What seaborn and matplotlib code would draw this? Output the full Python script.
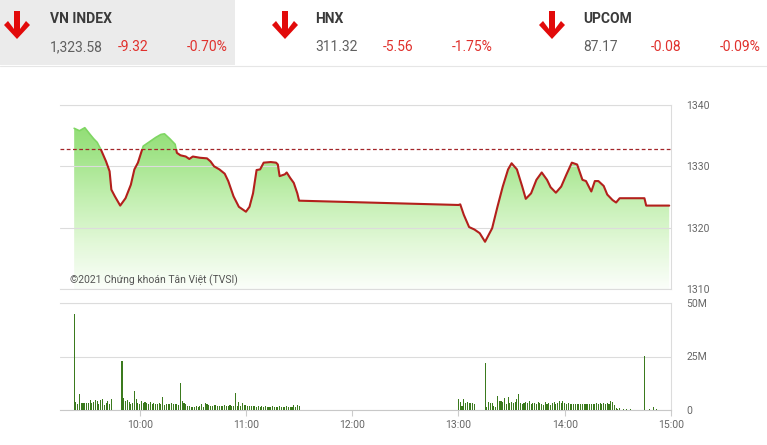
import matplotlib
matplotlib.use("Agg")
import matplotlib.pyplot as plt
from matplotlib.patches import Polygon, Rectangle
from matplotlib.colors import LinearSegmentedColormap
import numpy as np
import pandas as pd
import seaborn as sns

# Header quotes
index_names = ["VN INDEX", "HNX", "UPCOM"]
index_values = ["1,323.58", "311.32", "87.17"]
index_changes = ["-9.32", "-5.56", "-0.08"]
index_pct = ["-0.70%", "-1.75%", "-0.09%"]

ref_price = 1332.90

# VN-Index intraday
price_times = ["09:23", "09:26", "09:29", "09:32", "09:34", "09:36", "09:38", "09:41", "09:43", "09:44",
               "09:46", "09:49", "09:52", "09:55", "09:57", "09:59", "10:02", "10:05", "10:09", "10:12",
               "10:14", "10:17", "10:20", "10:21", "10:23", "10:26", "10:28", "10:30", "10:34", "10:38",
               "10:40", "10:42", "10:45", "10:48", "10:50", "10:53", "10:56", "11:00", "11:02", "11:04",
               "11:06", "11:08", "11:10", "11:14", "11:17", "11:18", "11:19", "11:22", "11:23", "11:25",
               "11:27", "11:29", "11:30", "13:00", "13:01", "13:03", "13:06", "13:09", "13:12", "13:15",
               "13:19", "13:22", "13:25", "13:28", "13:30", "13:33", "13:36", "13:38", "13:41", "13:44",
               "13:47", "13:50", "13:52", "13:55", "13:58", "14:01", "14:04", "14:07", "14:10", "14:12",
               "14:15", "14:17", "14:19", "14:22", "14:24", "14:27", "14:29", "14:31", "14:45", "14:46",
               "14:59"]
price_values = [1336.2, 1335.8, 1336.3, 1335.2, 1334.5, 1333.9, 1332.8, 1330.8, 1329.2, 1326.2,
                1325.1, 1323.6, 1324.8, 1327.0, 1329.5, 1330.6, 1333.3, 1333.9, 1334.7, 1335.2,
                1335.3, 1334.5, 1333.6, 1332.2, 1331.8, 1331.6, 1331.2, 1331.6, 1331.4, 1331.3,
                1330.8, 1330.0, 1329.5, 1328.8, 1327.6, 1325.1, 1323.4, 1322.6, 1323.4, 1325.6,
                1329.4, 1329.5, 1330.6, 1330.7, 1330.6, 1330.3, 1328.4, 1328.7, 1329.0, 1328.1,
                1327.3, 1325.6, 1324.4, 1323.7, 1323.8, 1322.1, 1320.1, 1319.7, 1319.1, 1317.7,
                1319.9, 1323.4, 1326.7, 1329.5, 1330.5, 1329.5, 1326.7, 1324.7, 1325.6, 1327.8,
                1329.0, 1327.8, 1326.6, 1325.7, 1326.7, 1328.7, 1330.6, 1330.3, 1327.8, 1327.6,
                1325.9, 1327.6, 1327.6, 1326.8, 1325.4, 1324.5, 1324.1, 1324.8, 1324.8, 1323.6,
                1323.6]

# Volume per minute (millions), one list per continuous run
vol_run_starts = ["09:23", "09:50", "13:00", "13:15"]
vol_run1 = [45.0, 3.9, 2.8, 7.3, 3.4, 3.1, 3.4, 3.2, 3.4, 4.7, 3.1, 3.8, 4.6, 4.2, 3.0, 4.6,
            5.2, 2.5, 3.5, 4.0, 3.0, 5.0]
vol_run2 = [22.7, 5.8, 4.2, 4.7, 3.6, 3.0, 3.4, 8.9, 5.2, 3.1, 3.0, 4.2, 3.5, 3.6, 3.4, 2.7,
            3.6, 2.7, 3.1, 2.8, 2.7, 3.2, 2.9, 6.2, 2.3, 2.7, 2.6, 2.7, 3.1, 2.7, 2.6, 2.7,
            2.5, 12.5, 4.2, 3.1, 2.7, 2.0, 2.0, 1.6, 1.6, 1.6, 2.0, 1.6, 2.0, 2.7, 1.6, 3.1,
            2.7, 2.3, 2.0, 2.0, 2.3, 2.3, 2.0, 2.0, 2.0, 1.8, 2.2, 1.9, 2.0, 2.4, 2.1, 1.9,
            7.8, 2.0, 3.6, 2.0, 3.1, 2.4, 2.2, 2.0, 1.8, 2.0, 1.7, 1.9, 1.6, 1.8, 1.5, 1.7,
            1.6, 1.8, 1.5, 1.6, 1.4, 1.7, 1.5, 1.6, 1.4, 1.7, 1.5, 1.6, 1.4, 1.8, 1.5, 1.6,
            1.5, 2.3, 1.6, 2.2, 1.8]
vol_run3 = [5.2, 3.6, 2.0, 5.2, 3.1, 3.6, 3.1, 3.1, 3.1, 2.8]
vol_run4 = [22.0, 1.5, 3.6, 3.1, 3.1, 2.0, 1.6, 6.6, 4.2, 4.2, 3.6, 5.5, 3.0, 6.2, 3.1, 3.9,
            3.1, 3.6, 5.2, 7.3, 3.1, 3.0, 3.4, 3.6, 3.1, 4.4, 3.0, 3.4, 3.1, 2.8, 3.6, 3.2,
            2.9, 2.5, 3.6, 2.8, 3.4, 2.5, 3.1, 3.8, 2.9, 3.5, 4.2, 3.1, 4.4, 3.5, 2.9, 3.3,
            2.8, 2.7, 2.6, 2.7, 2.6, 2.7, 2.6, 2.8, 2.6, 2.7, 2.9, 2.6, 2.8, 3.0, 2.7, 3.1,
            2.8, 3.2, 2.7, 3.4, 2.9, 3.3, 2.8, 4.4, 3.8, 2.2, 1.0, 0.6]
vol_late_times = ["14:31", "14:33", "14:35", "14:37", "14:45", "14:48", "14:50", "14:52"]
vol_late_values = [0.9, 0.5, 0.6, 0.4, 25.3, 0.5, 1.5, 0.4]

time_ticks = [10, 11, 12, 13, 14, 15]
time_labels = ["10:00", "11:00", "12:00", "13:00", "14:00", "15:00"]
price_ticks = [1310, 1320, 1330, 1340]
vol_ticks = [0, 25, 50]
vol_labels = ["0", "25M", "50M"]


def hhmm(s):
    h, m = s.split(":")
    return int(h) + int(m) / 60


def minute_run(start, n):
    t0 = hhmm(start)
    return [t0 + i / 60 for i in range(n)]


price = pd.DataFrame({"t": [hhmm(s) for s in price_times], "v": price_values})

vol_t, vol_v = [], []
for start, run in zip(vol_run_starts, [vol_run1, vol_run2, vol_run3, vol_run4]):
    vol_t += minute_run(start, len(run))
    vol_v += run
vol_t += [hhmm(s) for s in vol_late_times]
vol_v += vol_late_values
volume = pd.DataFrame({"t": vol_t, "v": vol_v})

sns.set_theme(style="white")
plt.rcParams["font.family"] = ["Roboto", "DejaVu Sans"]

W, H = 767, 445
fig = plt.figure(figsize=(W / 100, H / 100), dpi=100)
fig.patch.set_facecolor("white")

X0, X1 = 9.25, 15.0
grid_c = "#dcdcdc"
text_c = "#666666"

# ---- price panel
ax1 = fig.add_axes([60 / W, 1 - 289 / H, 611 / W, 184 / H])
ax1.set_xlim(X0, X1)
ax1.set_ylim(1310, 1340)

area = ax1.fill_between(price["t"], price["v"], 1310, color="none", lw=0)
green = LinearSegmentedColormap.from_list(
    "fade", ["#fbfefa", "#e2f8d8", "#c2efb0", "#9fe386", "#88da69"])
grad = np.linspace(0, 1, 256).reshape(-1, 1)
im = ax1.imshow(grad, extent=[X0, X1, 1310, 1340], origin="lower", cmap=green,
                aspect="auto", zorder=0.5)
im.set_clip_path(area.get_paths()[0], transform=ax1.transData)
ax1.set_xlim(X0, X1)
ax1.set_ylim(1310, 1340)

# line: red under the reference, green above it
sns.lineplot(data=price, x="t", y="v", ax=ax1, color="#b3201c", linewidth=1.5,
             estimator=None, sort=False, zorder=3)
red_line = ax1.lines[-1]
red_line.set_clip_path(Rectangle((X0, 1300), X1 - X0, ref_price - 1300,
                                 transform=ax1.transData))
sns.lineplot(data=price, x="t", y="v", ax=ax1, color="#7fd663", linewidth=1.2,
             estimator=None, sort=False, zorder=3)
green_line = ax1.lines[-1]
green_line.set_clip_path(Rectangle((X0, ref_price), X1 - X0, 20,
                                   transform=ax1.transData))

ax1.axhline(ref_price, color="#a3262a", lw=0.9, ls=(0, (3, 2)), zorder=2.5)

ax1.set_yticks(price_ticks)
ax1.set_xticks(time_ticks)
ax1.set_axisbelow("line")
ax1.grid(axis="y", color=grid_c, lw=0.8)
ax1.grid(axis="x", visible=False)
ax1.yaxis.tick_right()
ax1.tick_params(axis="y", length=0, pad=11, labelsize=7.5, labelcolor=text_c)
ax1.tick_params(axis="x", length=0, labelbottom=False)
ax1.set_xlabel("")
ax1.set_ylabel("")
ax1.spines["left"].set_visible(False)
for s in ["top", "right", "bottom"]:
    ax1.spines[s].set_color(grid_c)
    ax1.spines[s].set_linewidth(0.8)

ax1.text(10 / 611, 9 / 184, "©2021 Chứng khoán Tân Việt (TVSI)", transform=ax1.transAxes,
         fontsize=7.5, color="#555555", va="center", ha="left")

# ---- volume panel
ax2 = fig.add_axes([60 / W, 1 - 410 / H, 611 / W, 107 / H])
ax2.bar(volume["t"], volume["v"], width=0.6 / 60, color="#3b7a1e", lw=0, zorder=3)
ax2.set_xlim(X0, X1)
ax2.set_ylim(0, 50)
ax2.set_yticks(vol_ticks)
ax2.set_yticklabels(vol_labels)
ax2.set_xticks(time_ticks)
ax2.set_xticklabels(time_labels)
ax2.grid(axis="y", color=grid_c, lw=0.8)
ax2.grid(axis="x", visible=False)
ax2.yaxis.tick_right()
ax2.tick_params(axis="y", length=0, pad=11, labelsize=7.5, labelcolor=text_c)
ax2.tick_params(axis="x", bottom=True, length=4, width=0.8, color="#cccccc", pad=3,
                labelsize=7.5, labelcolor=text_c)
ax2.spines["left"].set_visible(False)
for s in ["top", "right"]:
    ax2.spines[s].set_color(grid_c)
    ax2.spines[s].set_linewidth(0.8)
ax2.spines["bottom"].set_color("#c8c8c8")
ax2.spines["bottom"].set_linewidth(0.8)

# ---- header strip (pixel coordinates)
hdr = fig.add_axes([0, 0, 1, 1], zorder=5)
hdr.set_xlim(0, W)
hdr.set_ylim(H, 0)
hdr.axis("off")
hdr.patch.set_alpha(0)
hdr.add_patch(Rectangle((0, 0), 235, 65, color="#ebebeb", lw=0))
hdr.plot([0, W], [65.5, 65.5], color="#e6e6e6", lw=0.8)

red = "#e0302c"
arrow_x = [17, 285, 552]
label_x = [50, 315, 583]
for ax_c, lx, name, val, chg, pct in zip(arrow_x, label_x, index_names, index_values,
                                         index_changes, index_pct):
    shape = [(ax_c - 3, 11), (ax_c + 3, 11), (ax_c + 3, 29), (ax_c + 9, 21), (ax_c + 13, 25),
             (ax_c, 39), (ax_c - 13, 25), (ax_c - 9, 21), (ax_c - 3, 29)]
    hdr.add_patch(Polygon(shape, closed=True, color="#e20a0a", lw=0))
    hdr.text(lx, 19, name, fontsize=10, fontweight="bold", color="#3a3a3a",
             va="center", ha="left")
    hdr.text(lx, 47, val, fontsize=10, color="#606060", va="center", ha="left")
    hdr.text(lx + 68, 47, chg, fontsize=10, color=red, va="center", ha="left")
    hdr.text(lx + 137, 47, pct, fontsize=10, color=red, va="center", ha="left")

fig.savefig("out.png", dpi=100)
